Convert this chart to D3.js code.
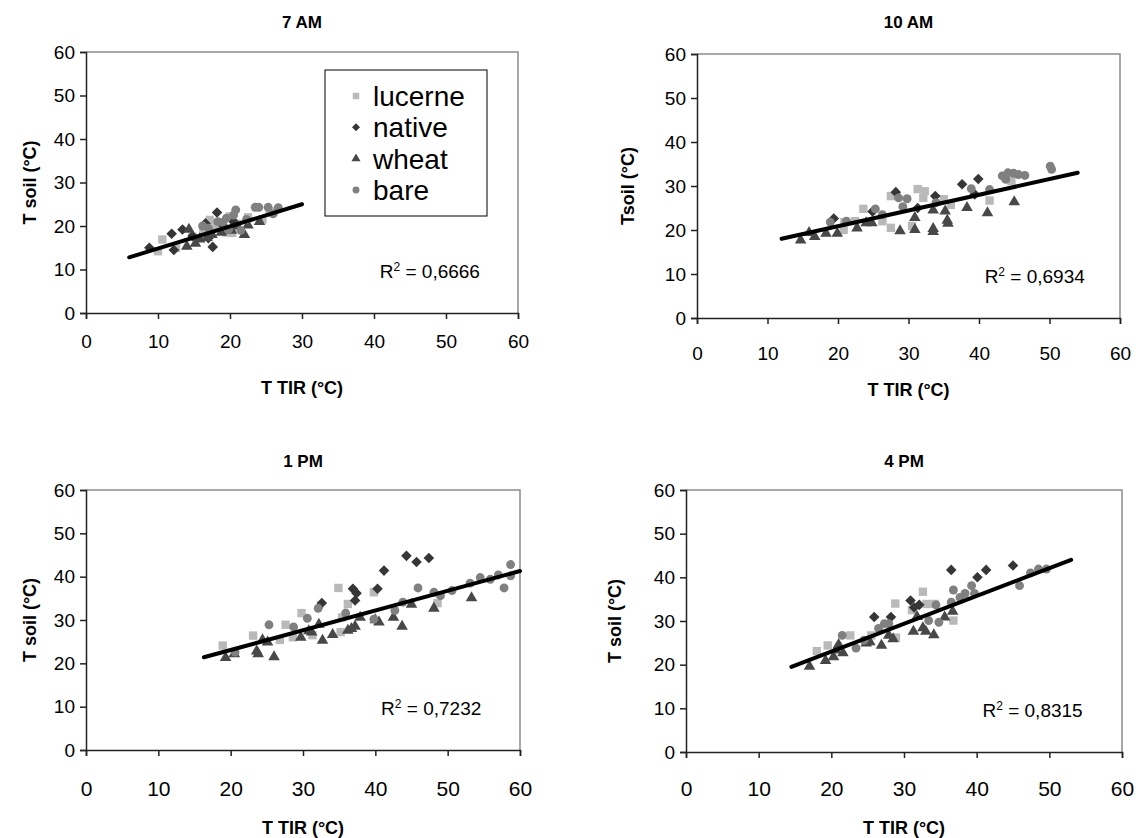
<!DOCTYPE html>
<html>
<head>
<meta charset="utf-8">
<script src="https://cdn.jsdelivr.net/npm/d3@7"></script>
<style>
  body { margin: 0; background: #fff; }
  text { font-family: Arial, "Liberation Sans", sans-serif; fill: #000; }
</style>
</head>
<body>
<svg id="chart" width="1136" height="838"></svg>
<script>
// panel titles and axis ticks
const titles = ['7 AM', '10 AM', '1 PM', '4 PM']
const r2Values = ['0,6666', '0,6934', '0,7232', '0,8315']
const ticks = [0, 10, 20, 30, 40, 50, 60]
const seriesNames = ['lucerne', 'native', 'wheat', 'bare']

// 7 AM
const lucerne7 = [[10.0,14.2],[10.6,16.9],[12.5,15.0],[14.8,17.5],[16.3,18.8],[17.2,21.4],[18.0,19.8],[19.5,18.5],[20.3,18.4],[21.0,20.5],[22.5,22.0],[24.5,21.5],[25.5,23.0],[26.0,23.3],[20.0,22.2]]
const native7 = [[8.8,15.0],[11.9,18.2],[12.2,14.5],[13.4,19.2],[14.8,17.7],[16.6,20.6],[17.6,15.2],[18.2,23.1],[17.0,17.2],[19.0,20.2],[20.5,21.0]]
const wheat7 = [[14.0,15.3],[14.3,19.2],[15.2,16.0],[15.8,17.0],[16.8,17.3],[17.5,18.0],[18.8,18.5],[20.2,19.0],[22.0,18.0],[22.5,20.2],[24.1,21.0],[21.0,20.0]]
const bare7 = [[16.2,20.0],[17.0,19.5],[18.3,21.0],[19.0,20.8],[19.8,19.2],[20.5,22.5],[20.8,23.7],[21.5,19.0],[22.3,21.5],[23.5,24.3],[24.0,24.3],[25.3,24.3],[26.7,24.2],[26.0,22.8],[19.5,21.8]]
const trend7 = [[6, 12.8], [30, 25]]

// 10 AM
const lucerne10 = [[20.8,20.0],[20.9,21.8],[22.4,22.0],[23.6,24.8],[26.3,22.0],[27.5,20.5],[27.5,27.7],[30.5,20.9],[31.3,29.3],[32.3,28.8],[32.1,27.3],[35.0,27.0],[36.0,25.7],[41.5,26.7],[44.6,31.1]]
const native10 = [[19.4,22.6],[24.9,24.2],[28.2,28.6],[31.3,25.0],[33.8,27.7],[37.6,30.4],[39.4,28.1],[39.9,31.6]]
const wheat10 = [[14.7,17.7],[16.7,18.5],[15.9,19.4],[18.3,19.2],[19.9,19.2],[22.7,20.4],[24.0,21.6],[24.8,21.6],[28.8,19.8],[30.9,20.1],[30.9,22.8],[33.5,20.3],[33.5,19.6],[33.5,24.5],[35.2,24.3],[35.5,22.2],[35.6,21.5],[38.3,25.1],[41.2,23.9],[45.0,26.4]]
const bare10 = [[18.9,21.8],[21.2,22.0],[25.3,24.8],[26.3,23.5],[28.6,27.3],[29.8,27.1],[29.2,25.3],[33.9,26.2],[38.9,29.4],[41.5,29.2],[43.3,32.3],[43.8,31.5],[44.1,33.0],[44.9,32.9],[45.6,32.6],[46.5,32.4],[50.1,34.5],[50.3,33.8]]
const trend10 = [[12, 18], [54, 33]]

// 1 PM
const lucerne1 = [[18.9,24.1],[23.1,26.4],[26.8,25.4],[27.6,28.9],[28.6,26.0],[29.8,31.6],[31.3,26.5],[34.9,37.4],[35.2,27.2],[35.4,30.6],[36.2,33.7],[39.8,36.4],[48.6,33.9]]
const native1 = [[32.6,33.9],[36.9,37.2],[37.2,34.5],[37.4,36.2],[40.3,37.2],[41.2,41.4],[44.3,44.8],[45.7,43.4],[47.4,44.3]]
const wheat1 = [[19.3,21.3],[20.5,22.2],[23.6,22.8],[23.8,22.2],[24.4,25.4],[25.1,24.9],[26.0,21.5],[29.7,26.0],[30.8,27.5],[31.2,27.2],[32.2,29.0],[32.7,25.3],[34.1,26.6],[36.2,27.6],[36.7,28.0],[37.2,28.5],[37.9,30.6],[40.0,30.0],[40.5,29.5],[42.5,30.6],[43.7,28.5],[45.0,33.6],[48.1,32.7],[53.3,35.1]]
const bare1 = [[20.6,22.6],[25.3,28.9],[28.7,28.4],[30.6,30.4],[32.1,32.7],[35.9,31.6],[39.8,30.2],[42.7,32.2],[43.8,34.1],[45.9,37.4],[48.1,36.4],[49.0,35.6],[50.6,36.8],[53.1,38.5],[54.5,39.8],[55.9,39.4],[57.0,40.4],[57.8,37.4],[58.7,42.8],[58.7,40.2]]
const trend1 = [[16.3, 21.4], [60, 41.3]]

// 4 PM
const lucerne4 = [[18.0,23.1],[19.5,24.4],[22.6,26.7],[25.5,26.7],[28.8,34.0],[28.9,26.2],[31.1,32.5],[32.6,36.7],[33.1,33.9],[34.2,33.9],[36.8,30.1]]
const native4 = [[25.9,30.9],[28.2,30.9],[30.9,34.7],[31.4,33.1],[32.1,33.7],[36.5,41.7],[40.1,40.0],[41.3,41.7],[45.0,42.7]]
const wheat4 = [[17.0,19.6],[19.2,20.9],[20.3,21.8],[20.6,23.3],[21.0,24.6],[21.6,22.7],[24.8,24.9],[25.3,25.2],[26.9,24.4],[27.9,26.7],[28.5,25.9],[31.3,27.6],[31.8,31.0],[32.6,28.4],[33.0,27.6],[34.1,26.8],[35.6,30.9],[36.7,32.2]]
const bare4 = [[21.5,26.7],[23.4,23.8],[24.5,25.6],[26.5,28.3],[27.3,29.4],[27.9,29.4],[33.4,30.1],[34.4,33.7],[34.8,29.7],[36.5,34.3],[36.8,37.1],[37.7,35.4],[38.4,36.3],[39.3,38.1],[39.7,36.3],[45.9,38.1],[47.4,41.0],[48.5,41.9],[49.6,41.9]]
const trend4 = [[14.5, 19.5], [53, 44]]

const panelData = [
  [lucerne7, native7, wheat7, bare7],
  [lucerne10, native10, wheat10, bare10],
  [lucerne1, native1, wheat1, bare1],
  [lucerne4, native4, wheat4, bare4]
]
const trends = [trend7, trend10, trend1, trend4]

// layout of each panel (pixels)
const layout = [
  { left: 86, right: 518, top: 52, bottom: 313, yTitleX: 30, yLabel: 'T soil (°C)', tickFont: 19, xTickFont: 19, titleY: 28, xLabelY: 348, xTitleY: 394 },
  { left: 697, right: 1120, top: 54, bottom: 318, yTitleX: 628, yLabel: 'Tsoil (°C)', tickFont: 19, xTickFont: 19, titleY: 28, xLabelY: 360, xTitleY: 396 },
  { left: 86, right: 520, top: 490, bottom: 750, yTitleX: 30, yLabel: 'T soil (°C)', tickFont: 19, xTickFont: 21, titleY: 467, xLabelY: 796, xTitleY: 834 },
  { left: 686, right: 1122, top: 490, bottom: 752, yTitleX: 615, yLabel: 'T soil (°C)', tickFont: 19, xTickFont: 21, titleY: 467, xLabelY: 796, xTitleY: 834 }
]

const colors = { lucerne: '#b9b9b9', native: '#363636', wheat: '#484848', bare: '#808080' }
const symbols = {
  lucerne: d3.symbol(d3.symbolSquare, 70),
  native: d3.symbol(d3.symbolSquare, 56),
  wheat: d3.symbol(d3.symbolTriangle, 58),
  bare: d3.symbol(d3.symbolCircle, 62)
}
const rotations = { lucerne: 0, native: 45, wheat: 0, bare: 0 }

const svg = d3.select('#chart')

layout.forEach((L, i) => {
  const g = svg.append('g')

  const x = d3.scaleLinear().domain([0, 60]).range([L.left, L.right])
  const y = d3.scaleLinear().domain([0, 60]).range([L.bottom, L.top])

  // frame (gray top and right)
  g.append('path')
    .attr('d', `M${L.left},${L.top}H${L.right}V${L.bottom}`)
    .attr('fill', 'none')
    .attr('stroke', '#8c8c8c')
    .attr('stroke-width', 1.5)

  // axes
  const yAxis = g.append('g')
    .attr('transform', `translate(${L.left},0)`)
    .call(d3.axisLeft(y).tickValues(ticks).tickSize(6).tickPadding(5))
  const xAxis = g.append('g')
    .attr('transform', `translate(0,${L.bottom})`)
    .call(d3.axisBottom(x).tickValues(ticks).tickSize(6).tickPadding(8))

  ;[yAxis, xAxis].forEach(a => {
    a.select('.domain').attr('stroke', '#222').attr('stroke-width', 1.5)
    a.selectAll('.tick line').attr('stroke', '#222').attr('stroke-width', 1.5)
  })
  yAxis.selectAll('.tick text')
    .style('font-size', L.tickFont + 'px')
    .attr('fill', '#000')
    .attr('font-family', 'Arial, "Liberation Sans", sans-serif')
  xAxis.selectAll('.tick text')
    .style('font-size', L.xTickFont + 'px')
    .attr('fill', '#000')
    .attr('font-family', 'Arial, "Liberation Sans", sans-serif')
    .attr('dy', null)
    .attr('y', L.xLabelY - L.bottom)

  // points
  seriesNames.forEach((name, s) => {
    g.selectAll('.pt-' + name)
      .data(panelData[i][s])
      .enter()
      .append('path')
      .attr('class', 'pt-' + name)
      .attr('d', symbols[name])
      .attr('fill', colors[name])
      .attr('transform', d => `translate(${x(d[0])},${y(d[1])}) rotate(${rotations[name]})`)
  })

  // trend line
  g.append('path')
    .datum(trends[i])
    .attr('d', d3.line().x(d => x(d[0])).y(d => y(d[1])))
    .attr('stroke', '#000')
    .attr('stroke-width', 4)
    .attr('stroke-linecap', 'round')
    .attr('fill', 'none')

  // R squared
  const r2 = g.append('text')
    .attr('x', x(40.8))
    .attr('y', y(8))
    .style('font-size', '19px')
  r2.append('tspan').text('R')
  r2.append('tspan').text('2').attr('dy', -7).style('font-size', '12px')
  r2.append('tspan').text(' = ' + r2Values[i]).attr('dy', 7)

  // titles
  g.append('text')
    .text(titles[i])
    .attr('x', (L.left + L.right) / 2)
    .attr('y', L.titleY)
    .attr('text-anchor', 'middle')
    .style('font-size', '17px')
    .attr('font-weight', 'bold')

  g.append('text')
    .text('T TIR (°C)')
    .attr('x', (L.left + L.right) / 2)
    .attr('y', L.xTitleY)
    .attr('text-anchor', 'middle')
    .style('font-size', '18px')
    .attr('font-weight', 'bold')

  g.append('text')
    .text(L.yLabel)
    .attr('transform', `translate(${L.yTitleX},${(L.top + L.bottom) / 2}) rotate(-90)`)
    .attr('text-anchor', 'middle')
    .attr('dy', '0.35em')
    .style('font-size', '18px')
    .attr('font-weight', 'bold')
})

// legend (7 AM panel only)
const legend = svg.append('g')
legend.append('rect')
  .attr('x', 325).attr('y', 70)
  .attr('width', 162).attr('height', 146)
  .attr('fill', '#fff')
  .attr('stroke', '#000')
  .attr('stroke-width', 1)

const legendY = d3.scalePoint().domain(seriesNames).range([96, 190])
const legendSymbols = {
  lucerne: d3.symbol(d3.symbolSquare, 42),
  native: d3.symbol(d3.symbolSquare, 32),
  wheat: d3.symbol(d3.symbolTriangle, 36),
  bare: d3.symbol(d3.symbolCircle, 38)
}
seriesNames.forEach(name => {
  legend.append('path')
    .attr('d', legendSymbols[name])
    .attr('fill', colors[name])
    .attr('transform', `translate(356,${legendY(name)}) rotate(${rotations[name]})`)
  legend.append('text')
    .text(name)
    .attr('x', 373)
    .attr('y', legendY(name))
    .attr('dy', '0.36em')
    .style('font-size', '28px')
})
</script>
</body>
</html>
